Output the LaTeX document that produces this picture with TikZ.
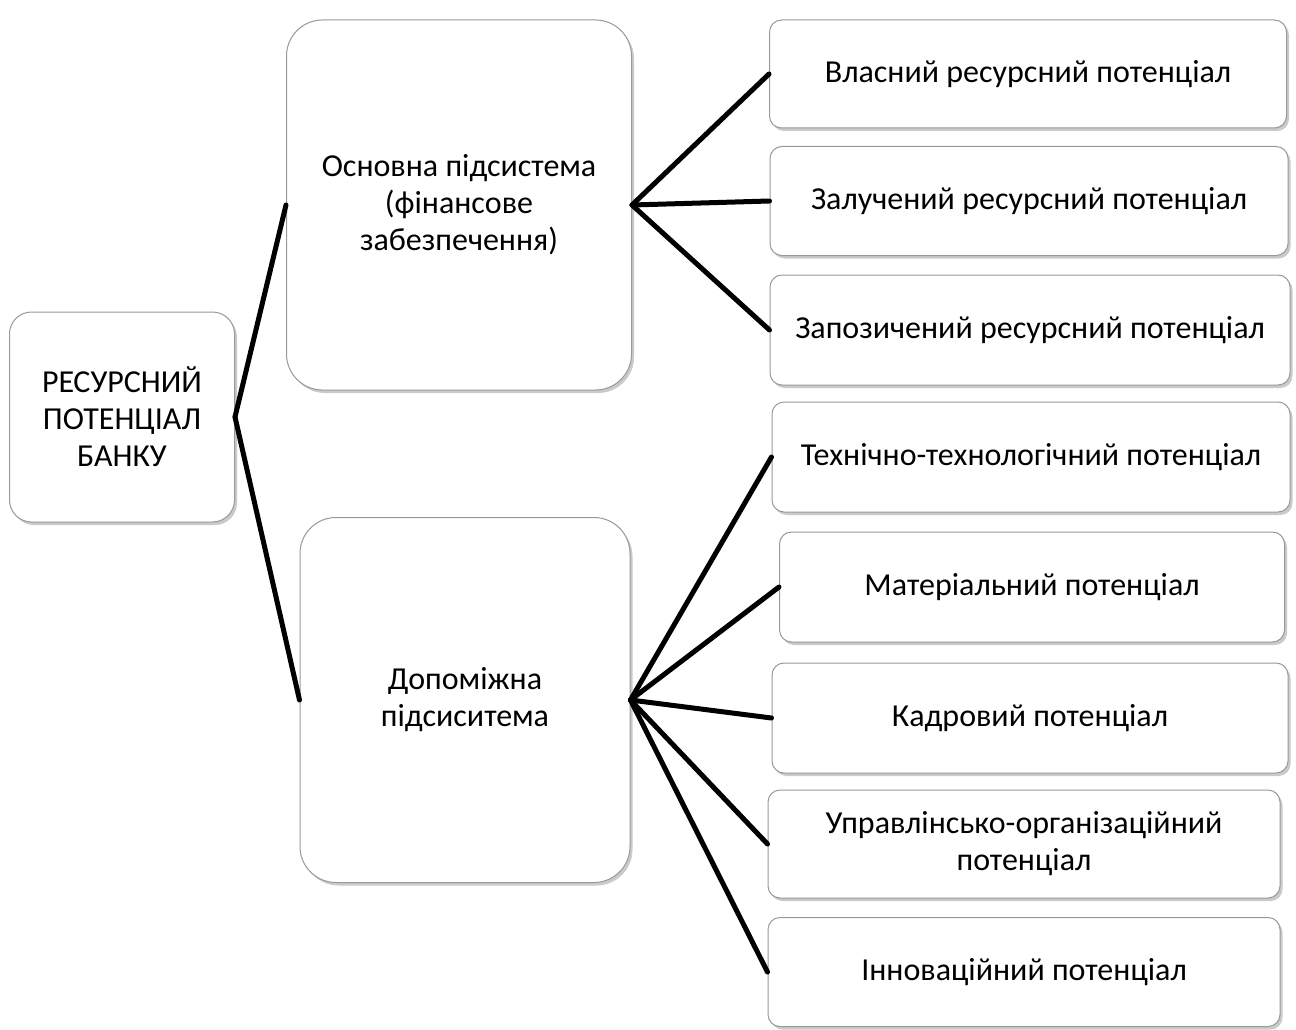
\documentclass[tikz,border=0pt]{standalone}
\usepackage{fontspec}
\setmainfont{Carlito}
\usetikzlibrary{shadows}
\tikzset{
  box/.style={draw=black!40, line width=1pt, fill=white, rounded corners=12pt, align=center,
              font=\fontsize{32}{37}\selectfont,
              drop shadow={shadow xshift=2.5pt, shadow yshift=-3pt, fill=black!35, opacity=.6}},
  big/.style={box, rounded corners=36pt},
  link/.style={draw, line width=5pt, line cap=round}
}
\begin{document}
\begin{tikzpicture}[x=1pt, y=-1pt]
\useasboundingbox (0,0) rectangle (1296,1030);
\node[box, rounded corners=22pt, minimum width=225pt, minimum height=210pt] (root) at (122,417) {РЕСУРСНИЙ\\ПОТЕНЦІАЛ\\БАНКУ};
\node[big, minimum width=345pt, minimum height=370pt] (main) at (459,205) {Основна підсистема\\(фінансове\\забезпечення)};
\node[big, minimum width=330pt, minimum height=365pt] (aux) at (465,700) {Допоміжна\\підсиситема};
% основна підсистема
\node[box, minimum width=517pt, minimum height=108pt] (own) at (1028,74) {Власний ресурсний потенціал};
\node[box, minimum width=518pt, minimum height=109pt] (att) at (1029,201) {Залучений ресурсний потенціал};
\node[box, minimum width=520pt, minimum height=110pt] (bor) at (1030,330) {Запозичений ресурсний потенціал};
% допоміжна підсистема
\node[box, minimum width=518pt, minimum height=110pt] (tech) at (1031,457) {Технічно-технологічний потенціал};
\node[box, minimum width=505pt, minimum height=110pt] (mat) at (1032,587) {Матеріальний потенціал};
\node[box, minimum width=516pt, minimum height=110pt] (staff) at (1030,718) {Кадровий потенціал};
\node[box, minimum width=512pt, minimum height=108pt] (mgmt) at (1024,844) {Управлінсько-організаційний\\потенціал};
\node[box, minimum width=512pt, minimum height=109pt] (inno) at (1024,972) {Інноваційний потенціал};
\foreach \t in {main,aux} \draw[link] (root.east) -- (\t.west);
\foreach \t in {own,att,bor} \draw[link] (main.east) -- (\t.west);
\foreach \t in {tech,mat,staff,mgmt,inno} \draw[link] (aux.east) -- (\t.west);
\end{tikzpicture}
\end{document}
